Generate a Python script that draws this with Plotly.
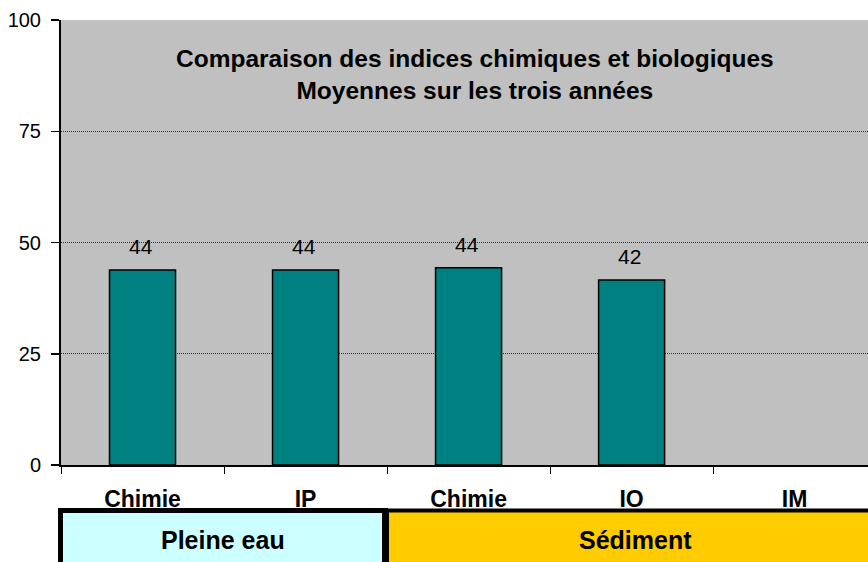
import plotly.graph_objects as go

# ---- data ----
categories = ["Chimie", "IP", "Chimie ", "IO", "IM"]
tick_labels = ["Chimie", "IP", "Chimie", "IO", "IM"]
values = [43.8, 43.8, 44.3, 41.6, None]
value_labels = ["44", "44", "44", "42", ""]
groups = ["Pleine eau", "Sédiment"]
group_colors = ["#CCFFFF", "#FFCC00"]
y_ticks = [0, 25, 50, 75, 100]
title_lines = ["Comparaison des indices chimiques et biologiques", "Moyennes sur les trois années"]

FONT = "Liberation Sans, Arial, sans-serif"
W, H = 868, 562
ML, MR, MT, MB = 61, 0, 20, 97
PW, PH = W - ML - MR, H - MT - MB


def px_to_paper_x(px):
    return (px - ML) / PW


def px_to_paper_y(py):
    return (H - MB - py) / PH


fig = go.Figure()
fig.add_trace(go.Bar(
    x=categories, y=values,
    width=0.405,
    marker=dict(color="#008080", line=dict(color="black", width=1.5)),
    hoverinfo="skip",
))

annotations = []
for c, v, lab in zip(categories, values, value_labels):
    if v is None:
        continue
    annotations.append(dict(
        x=c, y=v, xref="x", yref="y", text=lab, showarrow=False,
        yanchor="bottom", yshift=10, xshift=-2,
        font=dict(family=FONT, size=21, color="black"),
    ))

annotations.append(dict(
    x=px_to_paper_x(475), y=px_to_paper_y(75), xref="paper", yref="paper",
    text="<b>" + "<br>".join(title_lines) + "</b>", showarrow=False,
    xanchor="center", yanchor="middle", align="center",
    font=dict(family=FONT, size=24.5, color="black"),
))

# group boxes
shapes = []
box_top = px_to_paper_y(510.5)
box_bottom = px_to_paper_y(575)
x_left = px_to_paper_x(60.5)
x_div = px_to_paper_x(385.5)
x_right = px_to_paper_x(885)
shapes.append(dict(type="rect", xref="paper", yref="paper",
                   x0=x_left, x1=x_div, y0=box_bottom, y1=box_top,
                   fillcolor=group_colors[0], line=dict(color="black", width=5), layer="above"))
shapes.append(dict(type="rect", xref="paper", yref="paper",
                   x0=x_div, x1=x_right, y0=box_bottom, y1=box_top,
                   fillcolor=group_colors[1], line=dict(color="black", width=4), layer="above"))
shapes.append(dict(type="line", xref="paper", yref="paper",
                   x0=x_div, x1=x_div, y0=box_bottom, y1=box_top,
                   line=dict(color="black", width=7), layer="above"))

annotations.append(dict(
    x=(x_left + x_div) / 2, y=px_to_paper_y(540), xref="paper", yref="paper",
    text="<b>" + groups[0] + "</b>", showarrow=False, xanchor="center", yanchor="middle",
    font=dict(family=FONT, size=25, color="black"),
))
annotations.append(dict(
    x=px_to_paper_x(635), y=px_to_paper_y(540), xref="paper", yref="paper",
    text="<b>" + groups[1] + "</b>", showarrow=False, xanchor="center", yanchor="middle",
    font=dict(family=FONT, size=25, color="black"),
))

fig.update_layout(
    width=W, height=H,
    margin=dict(l=ML, r=MR, t=MT, b=MB, pad=0),
    paper_bgcolor="white",
    plot_bgcolor="#C0C0C0",
    showlegend=False,
    bargap=0.595,
    annotations=annotations,
    shapes=shapes,
    xaxis=dict(
        type="category",
        range=[-0.5, 4.45],
        tickmode="array", tickvals=categories,
        ticktext=["<b>" + t + "</b>" for t in tick_labels],
        tickson="boundaries",
        ticks="outside", ticklen=7, tickwidth=1, tickcolor="black",
        ticklabelstandoff=12,
        showline=True, linecolor="black", linewidth=2,
        showgrid=False, zeroline=False,
        tickfont=dict(family=FONT, size=23, color="black"),
        fixedrange=True,
    ),
    yaxis=dict(
        range=[0, 100],
        tickmode="array", tickvals=y_ticks,
        ticks="outside", ticklen=8, tickwidth=1.5, tickcolor="black",
        ticklabelstandoff=6,
        showline=True, linecolor="black", linewidth=2,
        showgrid=True, gridcolor="#333333", gridwidth=1, griddash="1px,1px",
        zeroline=False,
        tickfont=dict(family=FONT, size=20, color="black"),
        fixedrange=True,
    ),
)

fig.write_html(
    "out.html",
    config={"displayModeBar": False, "staticPlot": True},
    post_script="document.body.style.margin='0';document.body.style.overflow='hidden';",
)
